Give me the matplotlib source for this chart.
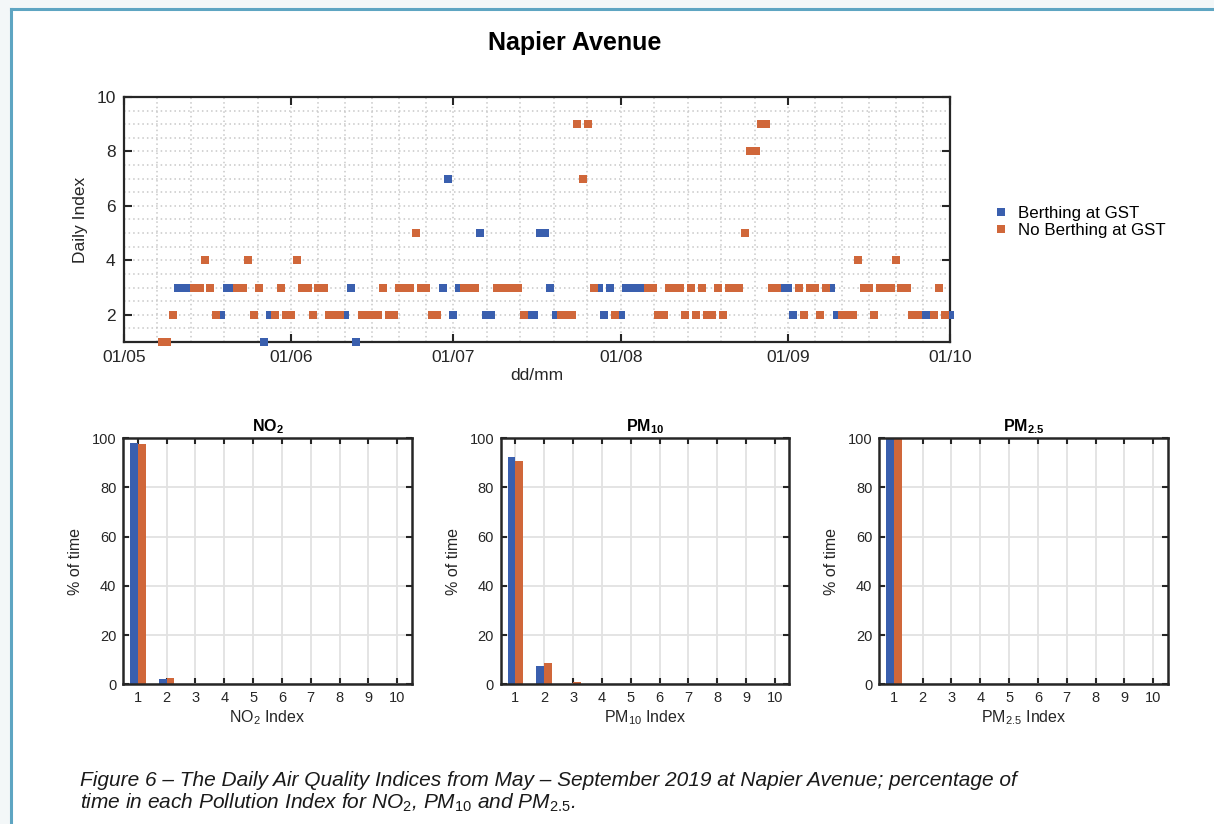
import matplotlib.pyplot as plt
import matplotlib.dates as mdates
from matplotlib.patches import Rectangle
from matplotlib.lines import Line2D
import numpy as np
import datetime as dt

plt.rcParams['font.family'] = ['Liberation Sans', 'DejaVu Sans']
plt.rcParams['mathtext.fontset'] = 'custom'
plt.rcParams['mathtext.rm'] = 'Liberation Sans'
plt.rcParams['mathtext.it'] = 'Liberation Sans:italic'
plt.rcParams['mathtext.bf'] = 'Liberation Sans:bold'

# daily index from 08/05/2019 onwards, one value per day
first_day = dt.date(2019, 5, 8)
daily_index = [1, 1, 2,
               3, 3, 3, 3, 3,   4, 3, 2, 2, 3,   3, 3, 3, 4, 2,
               3, 1, 2, 2, 3,   2, 2, 4, 3, 3,   2, 3, 3, 2, 2,
               2, 2, 3, 1, 2,   2, 2, 2, 3, 2,   2, 3, 3, 3, 5,
               3, 3, 2, 2, 3,   7, 2, 3, 3, 3,   3, 5, 2, 2, 3,
               3, 3, 3, 3, 2,   2, 2, 5, 5, 3,   2, 2, 2, 2, 9,
               7, 9, 3, 3, 2,   3, 2, 2, 3, 3,   3, 3, 3, 3, 2,
               2, 3, 3, 3, 2,   3, 2, 3, 2, 2,   3, 2, 3, 3, 3,
               5, 8, 8, 9, 9,   3, 3, 3, 3, 2,   3, 2, 3, 3, 2,
               3, 3, 2, 2, 2,   2, 4, 3, 3, 2,   3, 3, 3, 4, 3,
               3, 2, 2, 2, 2,   2, 3, 2, 2]
# 1 = ship berthing at GST that day
berthing = [0, 0, 0,
            1, 1, 1, 0, 0,   0, 0, 0, 1, 1,   1, 0, 0, 0, 0,
            0, 1, 1, 0, 0,   0, 0, 0, 0, 0,   0, 0, 0, 0, 0,
            0, 1, 1, 1, 0,   0, 0, 0, 0, 0,   0, 0, 0, 0, 0,
            0, 0, 0, 0, 1,   1, 1, 1, 0, 0,   0, 1, 1, 1, 0,
            0, 0, 0, 0, 0,   1, 1, 1, 1, 1,   1, 0, 0, 0, 0,
            0, 0, 0, 1, 1,   1, 0, 1, 1, 1,   1, 1, 0, 0, 0,
            0, 0, 0, 0, 0,   0, 0, 0, 0, 0,   0, 0, 0, 0, 0,
            0, 0, 0, 0, 0,   0, 0, 1, 1, 1,   0, 0, 0, 0, 0,
            0, 1, 1, 0, 0,   0, 0, 0, 0, 0,   0, 0, 0, 0, 0,
            0, 0, 0, 1, 1,   0, 0, 0, 1]

# % of time in each index band
bands = np.arange(1, 11)
no2_berth = [98.0, 2.0, 0, 0, 0, 0, 0, 0, 0, 0]
no2_noberth = [97.5, 2.5, 0, 0, 0, 0, 0, 0, 0, 0]
pm10_berth = [92.6, 7.4, 0, 0, 0, 0, 0, 0, 0, 0]
pm10_noberth = [90.6, 8.5, 0.9, 0, 0, 0, 0, 0, 0, 0]
pm25_berth = [100, 0, 0, 0, 0, 0, 0, 0, 0, 0]
pm25_noberth = [100, 0, 0, 0, 0, 0, 0, 0, 0, 0]

blue = '#3a5fae'
orange = '#d0673a'
dark = '#262626'

fig = plt.figure(figsize=(12.14, 8.24), dpi=100, facecolor='#f3f7f8')
W, H = 1214, 824
fig.patches.append(Rectangle((12 / W, 0), 1, 1 - 10 / H, transform=fig.transFigure,
                             facecolor='white', edgecolor='none', zorder=-10))
fig.add_artist(Line2D([10.5 / W, 1], [1 - 8.5 / H, 1 - 8.5 / H], color='#5ea5c2', lw=2.2))
fig.add_artist(Line2D([10.5 / W, 10.5 / W], [0, 1 - 8.5 / H], color='#5ea5c2', lw=2.2))

# ---- top: daily index scatter ----
ax = fig.add_axes([124 / W, 1 - 342 / H, 826 / W, 245 / H])
dates = np.array([first_day + dt.timedelta(days=i) for i in range(len(daily_index))])
vals = np.array(daily_index)
flag = np.array(berthing) == 1
ax.plot(dates[flag], vals[flag], 's', color=blue, ms=5.8, mew=0, ls='none',
        label='Berthing at GST', clip_on=False, zorder=3)
ax.plot(dates[~flag], vals[~flag], 's', color=orange, ms=5.8, mew=0, ls='none',
        label='No Berthing at GST', clip_on=False, zorder=4)
ax.set_xlim(dt.date(2019, 5, 1), dt.date(2019, 10, 1))
ax.set_ylim(1, 10)
months = [dt.date(2019, m, 1) for m in range(5, 11)]
ax.set_xticks(months)
ax.xaxis.set_major_formatter(mdates.DateFormatter('%d/%m'))
minor = []
for a, b in zip(months[:-1], months[1:]):
    n = (b - a).days
    parts = 5 if n == 31 else 6
    for k in range(1, parts):
        minor.append(mdates.date2num(a) + n * k / parts)
ax.set_xticks(minor, minor=True)
ax.set_yticks([2, 4, 6, 8, 10])
ax.set_yticks(np.arange(1, 10.01, 0.5), minor=True)
ax.grid(True, which='both', color='#c8c8c8', ls=(0, (1, 2)), lw=1.1)
ax.set_axisbelow(True)
ax.tick_params(which='major', direction='in', length=6, width=1.5, top=True, right=True,
               colors=dark, labelsize=12.5, pad=6)
ax.tick_params(which='minor', length=0)
for s in ax.spines.values():
    s.set_color(dark)
    s.set_linewidth(1.6)
ax.set_ylabel('Daily Index', fontsize=12.5, color=dark, labelpad=6)
ax.set_xlabel('dd/mm', fontsize=12.5, color=dark, labelpad=2)
ax.legend(loc='center left', bbox_to_anchor=(1.035, 0.49), frameon=False, fontsize=12.2,
          handlelength=0.8, handletextpad=0.6, labelspacing=0.1, markerscale=1.05)
fig.text(575 / W, 1 - 43 / H, 'Napier Avenue', ha='center', va='center',
         fontsize=18, fontweight='bold', color='black')

# ---- bottom: % of time per index band ----
panels = [
    (123.3, no2_berth, no2_noberth, r'$\mathbf{NO_2}$', r'NO$_2$ Index'),
    (501.0, pm10_berth, pm10_noberth, r'$\mathbf{PM_{10}}$', r'PM$_{10}$ Index'),
    (879.3, pm25_berth, pm25_noberth, r'$\mathbf{PM_{2.5}}$', r'PM$_{2.5}$ Index'),
]
w = 0.27
for left, b1, b2, title, xlab in panels:
    bx = fig.add_axes([left / W, 1 - 684.3 / H, 288.4 / W, 246 / H])
    bx.bar(bands - w / 2, b1, width=w, color=blue, edgecolor='none')
    bx.bar(bands + w / 2, b2, width=w, color=orange, edgecolor='none')
    bx.set_xlim(0.5, 10.5)
    bx.set_ylim(0, 100)
    bx.set_xticks(bands)
    bx.set_yticks(np.arange(0, 101, 20))
    bx.grid(True, color='#e2e2e2', lw=1.3)
    bx.set_axisbelow(True)
    bx.tick_params(direction='in', length=4, width=1.5, top=True, right=True,
                   colors=dark, labelsize=10.5, pad=5)
    for s in bx.spines.values():
        s.set_color(dark)
        s.set_linewidth(1.8)
    bx.set_title(title, fontsize=11.5, pad=5)
    bx.set_xlabel(xlab, fontsize=11.5, color=dark, labelpad=2)
    bx.set_ylabel('% of time', fontsize=11.5, color=dark, labelpad=6)

fig.text(80 / W, 1 - 781 / H,
         'Figure 6 – The Daily Air Quality Indices from May – September 2019 at Napier Avenue; percentage of',
         fontsize=15, style='italic', va='center', color='#1a1a1a')
fig.text(80 / W, 1 - 803 / H,
         r'time in each Pollution Index for NO$\mathit{_2}$, PM$\mathit{_{10}}$ and PM$\mathit{_{2.5}}$.',
         fontsize=15, style='italic', va='center', color='#1a1a1a')

fig.savefig('out.png', dpi=100, facecolor=fig.get_facecolor())
